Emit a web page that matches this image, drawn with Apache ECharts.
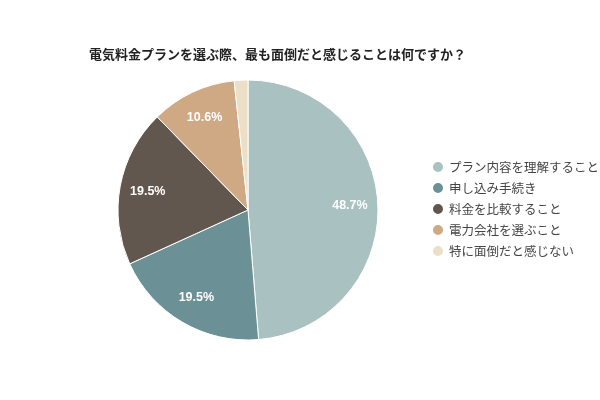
<!DOCTYPE html>
<html>
<head>
<meta charset="utf-8">
<script src="https://cdn.jsdelivr.net/npm/echarts@6/dist/echarts.min.js"></script>
<style>
  html, body { margin: 0; padding: 0; background: #fff; }
  #pie { width: 600px; height: 400px; }
</style>
</head>
<body>
<div id="pie"></div>
<script>
var categories = ['プラン内容を理解すること', '申し込み手続き', '料金を比較すること', '電力会社を選ぶこと', '特に面倒だと感じない'];
var values = [48.7, 19.5, 19.5, 10.6, 1.7];
var colors = ['#a9c1c1', '#6b9196', '#62574f', '#cfa884', '#ebdfc6'];

(function(){
	var pie = echarts.init(document.getElementById("pie"));
	var slices = categories.map(function (name, i) {
		return { value: values[i], name: name, itemStyle: { color: colors[i] } };
	});
	var labelSlices = categories.map(function (name, i) {
		return {
			value: values[i], name: name,
			label: { show: values[i] >= 5 }
		};
	});
	var option = {
		title : {
			text: '電気料金プランを選ぶ際、最も面倒だと感じることは何ですか？',
			left: 84,
			top: 43,
			textStyle: {
				fontFamily: 'Noto Sans CJK JP',
				fontSize: 13,
				fontWeight: 'bold',
				color: '#222'
			}
		},
		legend: {
			orient: 'vertical',
			left: 426,
			top: 155,
			icon: 'circle',
			itemWidth: 12,
			itemHeight: 12,
			itemGap: 7,
			textStyle: {
				fontFamily: 'Noto Sans CJK JP',
				fontSize: 12.5,
				color: '#444'
			},
			data: categories
		},
		series : [
			{
				name: '回答',
				type: 'pie',
				radius: [0, 130],
				center: [248, 210],
				startAngle: 90,
				clockwise: true,
				itemStyle: { borderColor: '#fff', borderWidth: 1 },
				label: { show: false },
				labelLine: { show: false },
				emphasis: { disabled: true },
				data: slices
			},
			{
				name: 'ラベル',
				type: 'pie',
				radius: [68, 130],
				center: [248, 210],
				startAngle: 90,
				clockwise: true,
				silent: true,
				itemStyle: { color: 'transparent' },
				label: {
					position: 'inside',
					formatter: '{c}%',
					color: '#fff',
					fontFamily: 'Liberation Sans',
					fontWeight: 'bold',
					fontSize: 12.5
				},
				labelLine: { show: false },
				data: labelSlices
			}
		]
	};
	pie.setOption(option);
})();
</script>
</body>
</html>
